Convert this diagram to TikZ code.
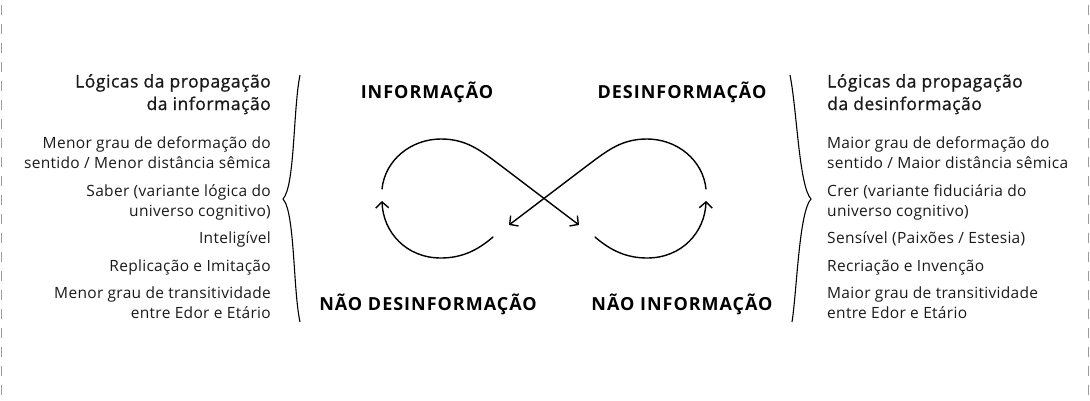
\documentclass[tikz,border=0pt]{standalone}
\usepackage{fontspec}
\setmainfont{Open Sans}
\newfontfamily\titlefont{Open Sans}[FakeBold=1,LetterSpace=3]
\newfontfamily\bodyfont{Open Sans}[LetterSpace=2]
\newfontfamily\headfont{Open Sans}[LetterSpace=5.5]
\usetikzlibrary{arrows.meta}
\definecolor{txt}{HTML}{1A1A1A}
\definecolor{dashgray}{HTML}{9A9A9A}
\begin{document}
\begin{tikzpicture}[x=1pt,y=-1pt,
  body/.style={font=\bodyfont\fontsize{15.5}{20}\selectfont, text=txt, inner sep=0pt},
  ttl/.style={font=\titlefont\fontsize{17.5}{24}\selectfont, text=txt, inner sep=0pt},
  head/.style={font=\headfont\bfseries\fontsize{18}{20}\selectfont, text=black, inner sep=0pt, anchor=base},
  loop/.style={line width=1.4pt, line cap=round},
  tip/.style={-{Straight Barb[length=6pt,width=13pt,line width=1.4pt]}},
  brace/.style={line width=1.1pt},
  border/.style={dashgray, line width=0.8pt, dash pattern=on 10pt off 9pt}
]
\useasboundingbox (0,0) rectangle (1090,400);
% dashed side borders
\coordinate (bl1) at (1.5,5); \coordinate (bl2) at (1.5,400);
\coordinate (br1) at (1088.5,5); \coordinate (br2) at (1088.5,400);
\draw[border] (bl1) -- (bl2);
\draw[border] (br1) -- (br2);

% left texts
\node[ttl, anchor=base east] (lt1) at (271,87.5) {Lógicas da propagação};
\node[ttl, anchor=base east] (lt2) at (271,110) {da informação};
\node[body, anchor=base east] (l1a) at (271,148) {Menor grau de deformação do};
\node[body, anchor=base east] (l1b) at (271,168) {sentido / Menor distância sêmica};
\node[body, anchor=base east] (l2a) at (271,196) {Saber (variante lógica do};
\node[body, anchor=base east] (l2b) at (271,216) {universo cognitivo)};
\node[body, anchor=base east] (l3) at (271,243) {Inteligível};
\node[body, anchor=base east] (l4) at (271,271) {Replicação e Imitação};
\node[body, anchor=base east] (l5a) at (271,298) {Menor grau de transitividade};
\node[body, anchor=base east] (l5b) at (271,318) {entre Edor e Etário};

% right texts
\node[ttl, anchor=base west] (rt1) at (827,87.5) {Lógicas da propagação};
\node[ttl, anchor=base west] (rt2) at (827,110) {da desinformação};
\node[body, anchor=base west] (r1a) at (827,148) {Maior grau de deformação do};
\node[body, anchor=base west] (r1b) at (827,168) {sentido / Maior distância sêmica};
\node[body, anchor=base west] (r2a) at (827,196) {Crer (variante fiduciária do};
\node[body, anchor=base west] (r2b) at (827,216) {universo cognitivo)};
\node[body, anchor=base west] (r3) at (827,243) {Sensível (Paixões / Estesia)};
\node[body, anchor=base west] (r4) at (827,271) {Recriação e Invenção};
\node[body, anchor=base west] (r5a) at (827,298) {Maior grau de transitividade};
\node[body, anchor=base west] (r5b) at (827,318) {entre Edor e Etário};

% braces
\coordinate (lbt) at (300,75); \coordinate (lbm) at (283,199); \coordinate (lbb) at (300,322);
\draw[brace] (lbt) .. controls (293,110) and (295,186) .. (lbm)
             .. controls (295,212) and (293,290) .. (lbb);
\coordinate (rbt) at (790,75); \coordinate (rbm) at (811,199); \coordinate (rbb) at (792,322);
\draw[brace] (rbt) .. controls (797,110) and (799,186) .. (rbm)
             .. controls (799,212) and (797,290) .. (rbb);

% headings
\node[head] (hinf) at (427,98) {INFORMAÇÃO};
\node[head] (hdes) at (682,98) {DESINFORMAÇÃO};
\node[head] (hnd) at (428,310) {NÃO DESINFORMAÇÃO};
\node[head] (hni) at (682,310) {NÃO INFORMAÇÃO};

% infinity loop
\coordinate (a1) at (382,189);  \coordinate (atop) at (441,139); \coordinate (a2) at (579,225);
\coordinate (b1) at (493,237);  \coordinate (bbot) at (441,258); \coordinate (b2) at (382,201);
\coordinate (c1) at (706,189);  \coordinate (ctop) at (647,139); \coordinate (c2) at (509,225);
\coordinate (d1) at (595,237);  \coordinate (dbot) at (647,258); \coordinate (d2) at (706,201);

\draw[loop, tip] (a1) .. controls (385,160) and (411,139) .. (atop)
  .. controls (466,139) and (480,150) .. (500,165) -- (a2);
\draw[loop, tip] (b1) .. controls (478,250) and (462,258) .. (bbot)
  .. controls (406,258) and (383,232) .. (b2);
\draw[loop, tip] (c1) .. controls (703,160) and (677,139) .. (ctop)
  .. controls (622,139) and (608,150) .. (588,165) -- (c2);
\draw[loop, tip] (d1) .. controls (610,250) and (626,258) .. (dbot)
  .. controls (682,258) and (705,232) .. (d2);
\end{tikzpicture}
\end{document}
